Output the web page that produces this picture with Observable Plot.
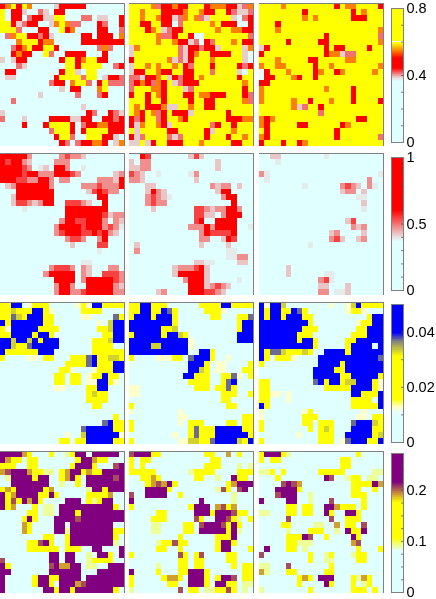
<!DOCTYPE html>
<html><head><meta charset="utf-8">
<script src="https://cdn.jsdelivr.net/npm/d3@7"></script>
<script src="https://cdn.jsdelivr.net/npm/@observablehq/plot@0.6"></script>
<style>html,body{margin:0;padding:0;background:#fff;width:436px;height:599px;overflow:hidden}
svg{position:absolute;filter:blur(0.35px)}</style></head><body><script>
// Cell values per panel: one string per grid row, one letter per cell; letters resolve to values via the levels tables.
const row1a=["royryo....wrrrrr.......","y.rrw..pw.rr...........","y.rr.prrwwyy...pp.ww..r","yyrwprr..woyopp...rp..r","yyyp...rr..yro....rr..p",".poyyrrprw.....rr.rrr.o","...oyyyroo.....rrrrrrrr","..proyrryyr.......pop..","..rorr..yp..rrrr...r...","w.wrr......ryyroyyrr...","...pw.......yyryyyy..pr",".rr........ryyw.yy.....",".ww.......ryyyypyy.wrrp",".........prr.oyyp.ryppp","...........w.rr...oy...",".......w......p...pr...","..p....................","...............w.......","w...............rp..rpw","p...w....rrrrwwrr..rrpr","....r...ryyyyr.prroorrr",".........pyyyr.ryyyyrrr","..........ryyp..yyyrrw.","...........rp.prroor.wo"];
const row1b=["yyyyoprrorryyyrooorrwpo","yyoyyyrrrroyyorryyrpwwp","yyoyyorrwpoyopwyyyyw.pr","yyrryyrr.pyyyyyoyrrr..r","yyyroywprryyyyyyoyyoorr","yyyyyoppryyr..yyyyyyyyp","yyyyyoyyorrwp.rpyyyoyrr","woyyyyyyypwrrprrwyyyywo","wyyyyyyyypwroyyrrrryyw.","ryyyyyyowpwryyyoyyyyyw.","wyyoyoyyoyrpyyyryyyyrpr","wrryyorryyrryyypyyyyw.y","ppwrroywrprryoyyyyyyryy","prorporywprrryyyyyyyyoy","pyyyooryyywpyyyyyyyyyry","ryyryoryyyrryoorrryyyrp","yyyryyryyyyryyrryyyyyop","yoyrrrowwyyoyyrryyyyyyy","yoryopryrrrwyyyyyyryyyy","rpryypryyoryyyyyyyrrroo","rwoyyorwyyyyyyypryyryyy","ywyyyyyrryyyyyrwyyyoyyy","rwpyyyypwpyyyyryyyryyoy","wwywryyrrryyyoyyyyyrryy"];
const row1c=["yyyyoyyyyyyyyyryooyyyyr","yyyyyyyyryyyyyyyyryoyyy","yyyyyyyyoyoyyyyyyrrryyy","yyyryyyyyyyyyyyyyyyyyyy","yyyoyyyyyyyyyyyyyyyyyyo","yyyyyyyyyyyyryyyyyyyyyp","yyyyyryyyyyrryyyyyyyyyo","wryyyyyyyyyyryrryyyyryy","ryyyyyyyyyyyroowppyyyyy","yyyoyyyyyrryyyyyooyyyyy","oyyooyyyyyryyoyyyyyyyyo",".ryyyoyyyyroyyroyyyyyoy",".rryyyoryyryyyyyyyyyyyy","rryyyyyyyyyyyyyyyyyyyyy","oyyyyyyyyyyyoyyyyryyyyy","oyyyyyyyyyyyyyyyyryyyyy","oyyyyyoyyryyyoyyyryyyyr","yyyyyyowpyyryyyyyyyyyyy","yyyyyyyyyyypyyyyyyyyyyy","oroyyyyyyyyyyyyyyyrryyy","oryyyyyrryyyyyyroyyyyyy","yryyyyyyyyyyyyryyyyyyyy","oryyyyyyyyyyyyryyyyyyyp","ryyyryyroyyyyyyyyyyyyyy"];
const row2a=["rrrrrp.....pmppl.......","rmrrpl....ppp..........","rrrrmp.wl.rrp..w.......","rrrrmrrppprrrmp......lp","rrrmmpprrp.pp.....ppplr",".lprrrrrrp.....pppmpppr","...rrrrrrr......lmrmpp.","..lrrrrrrr........rr...","..lmmplprr..mmmpl..r...","....w.......rrrrrrrr...","............rrrrrrrmlpp","...........prrmmrrrp.pl","..........prrrrmrrrpmpw","..........pmrrrmmrmrpl.","............pmmp..pr...",".............l....mm...","..................w....",".......................","...............ww......",".........pmmmp.pl...pp.","........prrrrr.pl..mmmp","..........rrrr.prrrrrmp","..........prrp..rrrrrpl","..........prrppmrrrrrpp"];
const row2b=["..rm.......lml.........","l.pp............l......","llpp............l......","mpl..w.....wp..........","ppl.........l..........","...ll..........plpp.l..","...lrpl.........lrr....","...pmplw.........prr...","...pmpp............r...","....l.......mmplpprrp..","............mmll.prrr..","............mr..rrrr...","...........ppprprrrr..w",".............prmmmmr...",".............pp..lrm...",".l...........l....l....",".p................ww...","..................wwpp.","............llww....ll.","........lpppmrl........","........lrrrrrl........","..........prrrl.....w..","...........rrrlpmpl....",".....lp....rrrmmpl....."];
const row2c=["..ll........w..........","...w...................","......................." ,"pw....................w",".w..................p..","........w......pmpl.pw.","...............lpp.l...","..................ww...","...................l...","...................w...",".......................","................lm.....",".................plp...",".............lp....l...",".............pml..lp...",".........w.............",".......................",".......................",".......................",".....l.................",".....l......ww.........","...........pmw.........","...........ll...l......","...........pp.wwl......"];
const row3a=["yybb.lyyy.....lylbbyyyy","yygyyybbyl.....yyyy....","yysgybbbyy.....ll....sy","bybbbbbbyy........l.gbb","ylbbbbbyyyy.......yygbb","yybbbbybby.........yybb","bbgbbgbybbb......yyygbb","bbgyysbbbbb......yyyy..","byyyyyybbb.......yyyyyy","y....ll.yy...yyysbyyggy","............yyyysbyyybb","...........yyl...lyyybb","..........yy.yy.lyybyy.","..........yy.yy.llbbyl.","..........ll....yybb...","................ygyy...","................yyyy...",".................yy....",".......................",".....................y.","...................sbyy","...............sbbbbbyy","............l..gbbbbbbl","...........yy.yybbbbbyy"];
const row3b=["yybbyyy......yyyybbyyyy","yybbyybsy.....yyyl.....","ybbbybbby......yy...yys","bbbbbbbby...........ybb","bbbbbbyyg...........ybb","ybbbbbybbgy.........bbb","bbbbbbbbbbbl........bbb","bbbbggbbbbbl...........","bbbbbbbbbbb..bby.......","y....lllyy.sbbby..l....","...........bbby.ll....y","...........bbgy.ll...yy","..........bbyyy..yysl.y","...........yyyy..ysb...","ll..........yyy.yysy...","ll...............yyy..y",".................yy....","y.................yy...","l........l.............",".........ll..........yy","y........l.yyy....yy.yy","y..........ysyyybbbbbyy","........l..ysyyybbbbbby","y........llggyysbbbbgyb"];
const row3c=["blbbg........l..lgbyyyy","bybbyybsy.......lyyl...","bybbybbbyy..........ybb","bbbbbbbbby........lyybb","bbbbbbbbyyy.......yybbb","bbbbbbbyyy.......yyybbb","bbbbbbbybby.....yybbbbb","bbbbbbbbbby.....ybbbb.b","byssgyyygy..bbbbybbbbbb","by.yyyl....bbbbbbbbbbbs","y..........bbbbybbbbbbb","..........bbbbyybbbbbbb","..........bbbbbyybbbbby","yy........sbybbyggbbbyl","yy..........yyyyybbbbyl","yyll.l...........bbyyyb","yy...l...........yyyy.b","by...............yyyyyb","l.......ly.........l...","l.......yyy.......ll.yy","y.......yy.yyy...sbbbgy","y........y.ygy...bbbbyy",".......l...yyy..bbbbbyg","y..........yyy.lsbbbyyb"];
const row4a=["uuuugy...y..lyuu.uuuuu.","ugyy.yy.......yuugyy...","yyy..yy......yuuuy...mu","gmuuugyyll.yguuygyyuuuu",".luuuuyuu..yguy.uuuuumu","..uuuuuuu..l..y.uuuuuuu","ygyuuuuuyg......luuyuuu","uyguuuuyyuy.....yyyyg..","uymyuguy....uuu.ylyuu..","uyg...y.ll.uuuuuuuuuuy.",".....yy.ll.uuuyuuuuuuuu","....yuy...uuuumuuuuuuuu","....gy....uu.uuuuuuuu..","....gy....uuluuuuuuuuyy","........yy..yuuuuuuuuy.",".....yymuy..yuuuuuuuul.",".....yyyyyy.yyy..uu...u",".........uu.uu..l.uuy.u","m........uu.uu..lyyyy..","uy.......mugguu.ll..uuu","uu.......uuuuuu...uuuuu","u.....yuuyyuuuu.uuuuuuu","u.....yuuy.uuugmuuuuuuu","u.......uuyuuyuuuuuuuy."];
const row4b=["muuuyy........yy..g.y..","y.yy...........yy......","y.y...........yyy...l.l","yyyyy......lyyyy....yyy","..yygy......yy..l..uyy.","...ygmguy.........yguuu","...uuuuy........lmy.mu.","m..uuuu..y.........l...","u............u.....l...","y..........yuuu.gmyg...",".....yy.....uuuyuuumyy.","....yyy.....my..uumyl.y","....ll....yy.muuumyuy..","....ll....yy.uuuuuyul..",".........y......yyyu...",".....lyymyy.....yuuy...",".....yy..y......yuu...y","y........my.ym....yy...",".........yy.yy....yy...",".....l...yy.yy.....y.yy","u....y...yyuuuy......yy","y.....yggy.uuuy.yuum.yy","y......yy..uuuy.uuyy.ll","l........m.yy.llyymy.l."];
const row4c=["yuuuyl............y....","y.yy...........yy......","...............yy......","lly.y......yyyyy.....ll","...y........um..lyy.ll.","....mumg.........yyyyug","...uuuuy.........yy..y.","...muuu..l.......yyy...","u....uu..l...m.....y...",".....yy.yy..uugyyy.y...","ll...yy.yy..uy..uuy....",".....m.......m..yyy....","....yy....ll..g.yy.m...",".....l...yyy..l.uyyu...",".....yyyum..y....uy....",".....yylll.......gm....",".u...yy.l.........y...y","m........y..ly...lyy...",".........y..ll....yy...","ll...m.......y.........","gl...yy.....yy.........",".......ygy.uuu...ylgy..",".......y....uy...y.ly..","l........y.......yyy.y."];

const levels1={".":0.2,w:0.385,p:0.41,r:0.47,o:0.545,y:0.7};
const levels2={".":0.2,w:0.385,l:0.42,p:0.47,m:0.54,r:0.75};
const levels3={".":0.005,l:0.0125,y:0.024,g:0.033,s:0.037,b:0.045};
const levels4={".":0.04,l:0.09,y:0.14,g:0.19,m:0.203,u:0.25};

const cyan="#e0ffff";
const rows=[
 {top:2,h:144,panels:[row1a,row1b,row1c],levels:levels1,max:0.8,ticks:[0,0.4,0.8],minor:0.1,bar:[8,142],
  domain:[0,0.36,0.38,0.44,0.5,0.59,0.8],range:[cyan,cyan,"#e6e0e0","#ff0000","#ff0000","#ffff00","#ffff00"]},
 {top:152,h:143,panels:[row2a,row2b,row2c],levels:levels2,max:1,ticks:[0,0.5,1],minor:0.1,bar:[157,290],
  domain:[0,0.36,0.39,0.6,1],range:[cyan,cyan,"#e6e6e6","#ff0000","#ff0000"]},
 {top:301,h:143,panels:[row3a,row3b,row3c],levels:levels3,max:0.05,ticks:[0,0.02,0.04],minor:0.01,bar:[304,442],
  domain:[0,0.0105,0.0125,0.0155,0.031,0.0365,0.0395,0.05],range:[cyan,cyan,"#ffffcc","#ffff00","#ffff00","#808080","#0000ff","#0000ff"]},
 {top:450,h:143,panels:[row4a,row4b,row4c],levels:levels4,max:0.272,ticks:[0,0.1,0.2],minor:0.025,bar:[453,592],
  domain:[0,0.08,0.105,0.175,0.215,0.272],range:[cyan,cyan,"#ffff00","#ffff00","#800080","#800080"]}
];
const lefts=[0,129,259], panelW=125, cols=d3.range(23), gridRows=d3.range(24);

function place(svg,l,t){svg.style.left=l+"px";svg.style.top=t+"px";svg.style.maxWidth="none";svg.style.background="transparent";document.body.appendChild(svg);}

for(const r of rows){
  const color={type:"linear",domain:r.domain,range:r.range,interpolate:"rgb"};
  r.panels.forEach((panel,k)=>{
    const cells=panel.flatMap((s,i)=>Array.from(s,(c,j)=>({col:j,row:i,v:r.levels[c]})));
    place(Plot.plot({width:panelW,height:r.h,margin:0,marginRight:1,marginTop:1,
      x:{axis:null,domain:cols,type:"band",padding:0,round:false},
      y:{axis:null,domain:gridRows,type:"band",padding:0,round:false},
      color,
      marks:[
        Plot.cell(cells,{x:"col",y:"row",fill:"v",shapeRendering:"crispEdges"}),
        Plot.frame({anchor:"top",stroke:"#808080",strokeWidth:1}),
        Plot.frame({anchor:"right",stroke:"#808080",strokeWidth:1})
      ]}),lefts[k],r.top);
  });
  const samples=d3.range(0,200).map(i=>({a:r.max*i/200,b:r.max*(i+1)/200}));
  const mt=10, barH=r.bar[1]-r.bar[0];
  const minor=d3.range(0,r.max,r.minor);
  place(Plot.plot({width:45,height:barH+2*mt,marginLeft:0,marginRight:33,marginTop:mt,marginBottom:mt,
    style:{fontFamily:"'Liberation Sans',Arial,sans-serif",fontSize:"14.5px",color:"#000"},
    x:{axis:null,domain:[0,1]},
    y:{domain:[0,r.max],axis:null},
    color,
    marks:[
      Plot.rect(samples,{x1:0,x2:1,y1:"a",y2:"b",fill:"a",shapeRendering:"crispEdges"}),
      Plot.ruleY(minor,{x1:0.84,x2:1,stroke:"#444",strokeWidth:0.7}),
      Plot.frame({stroke:"#808080",strokeWidth:1}),
      Plot.axisY(r.ticks,{anchor:"right",tickSize:0,tickPadding:3,label:null,tickFormat:d=>String(d),fill:"#000"})
    ]}),391,r.bar[0]-mt);
}
</script></body></html>
